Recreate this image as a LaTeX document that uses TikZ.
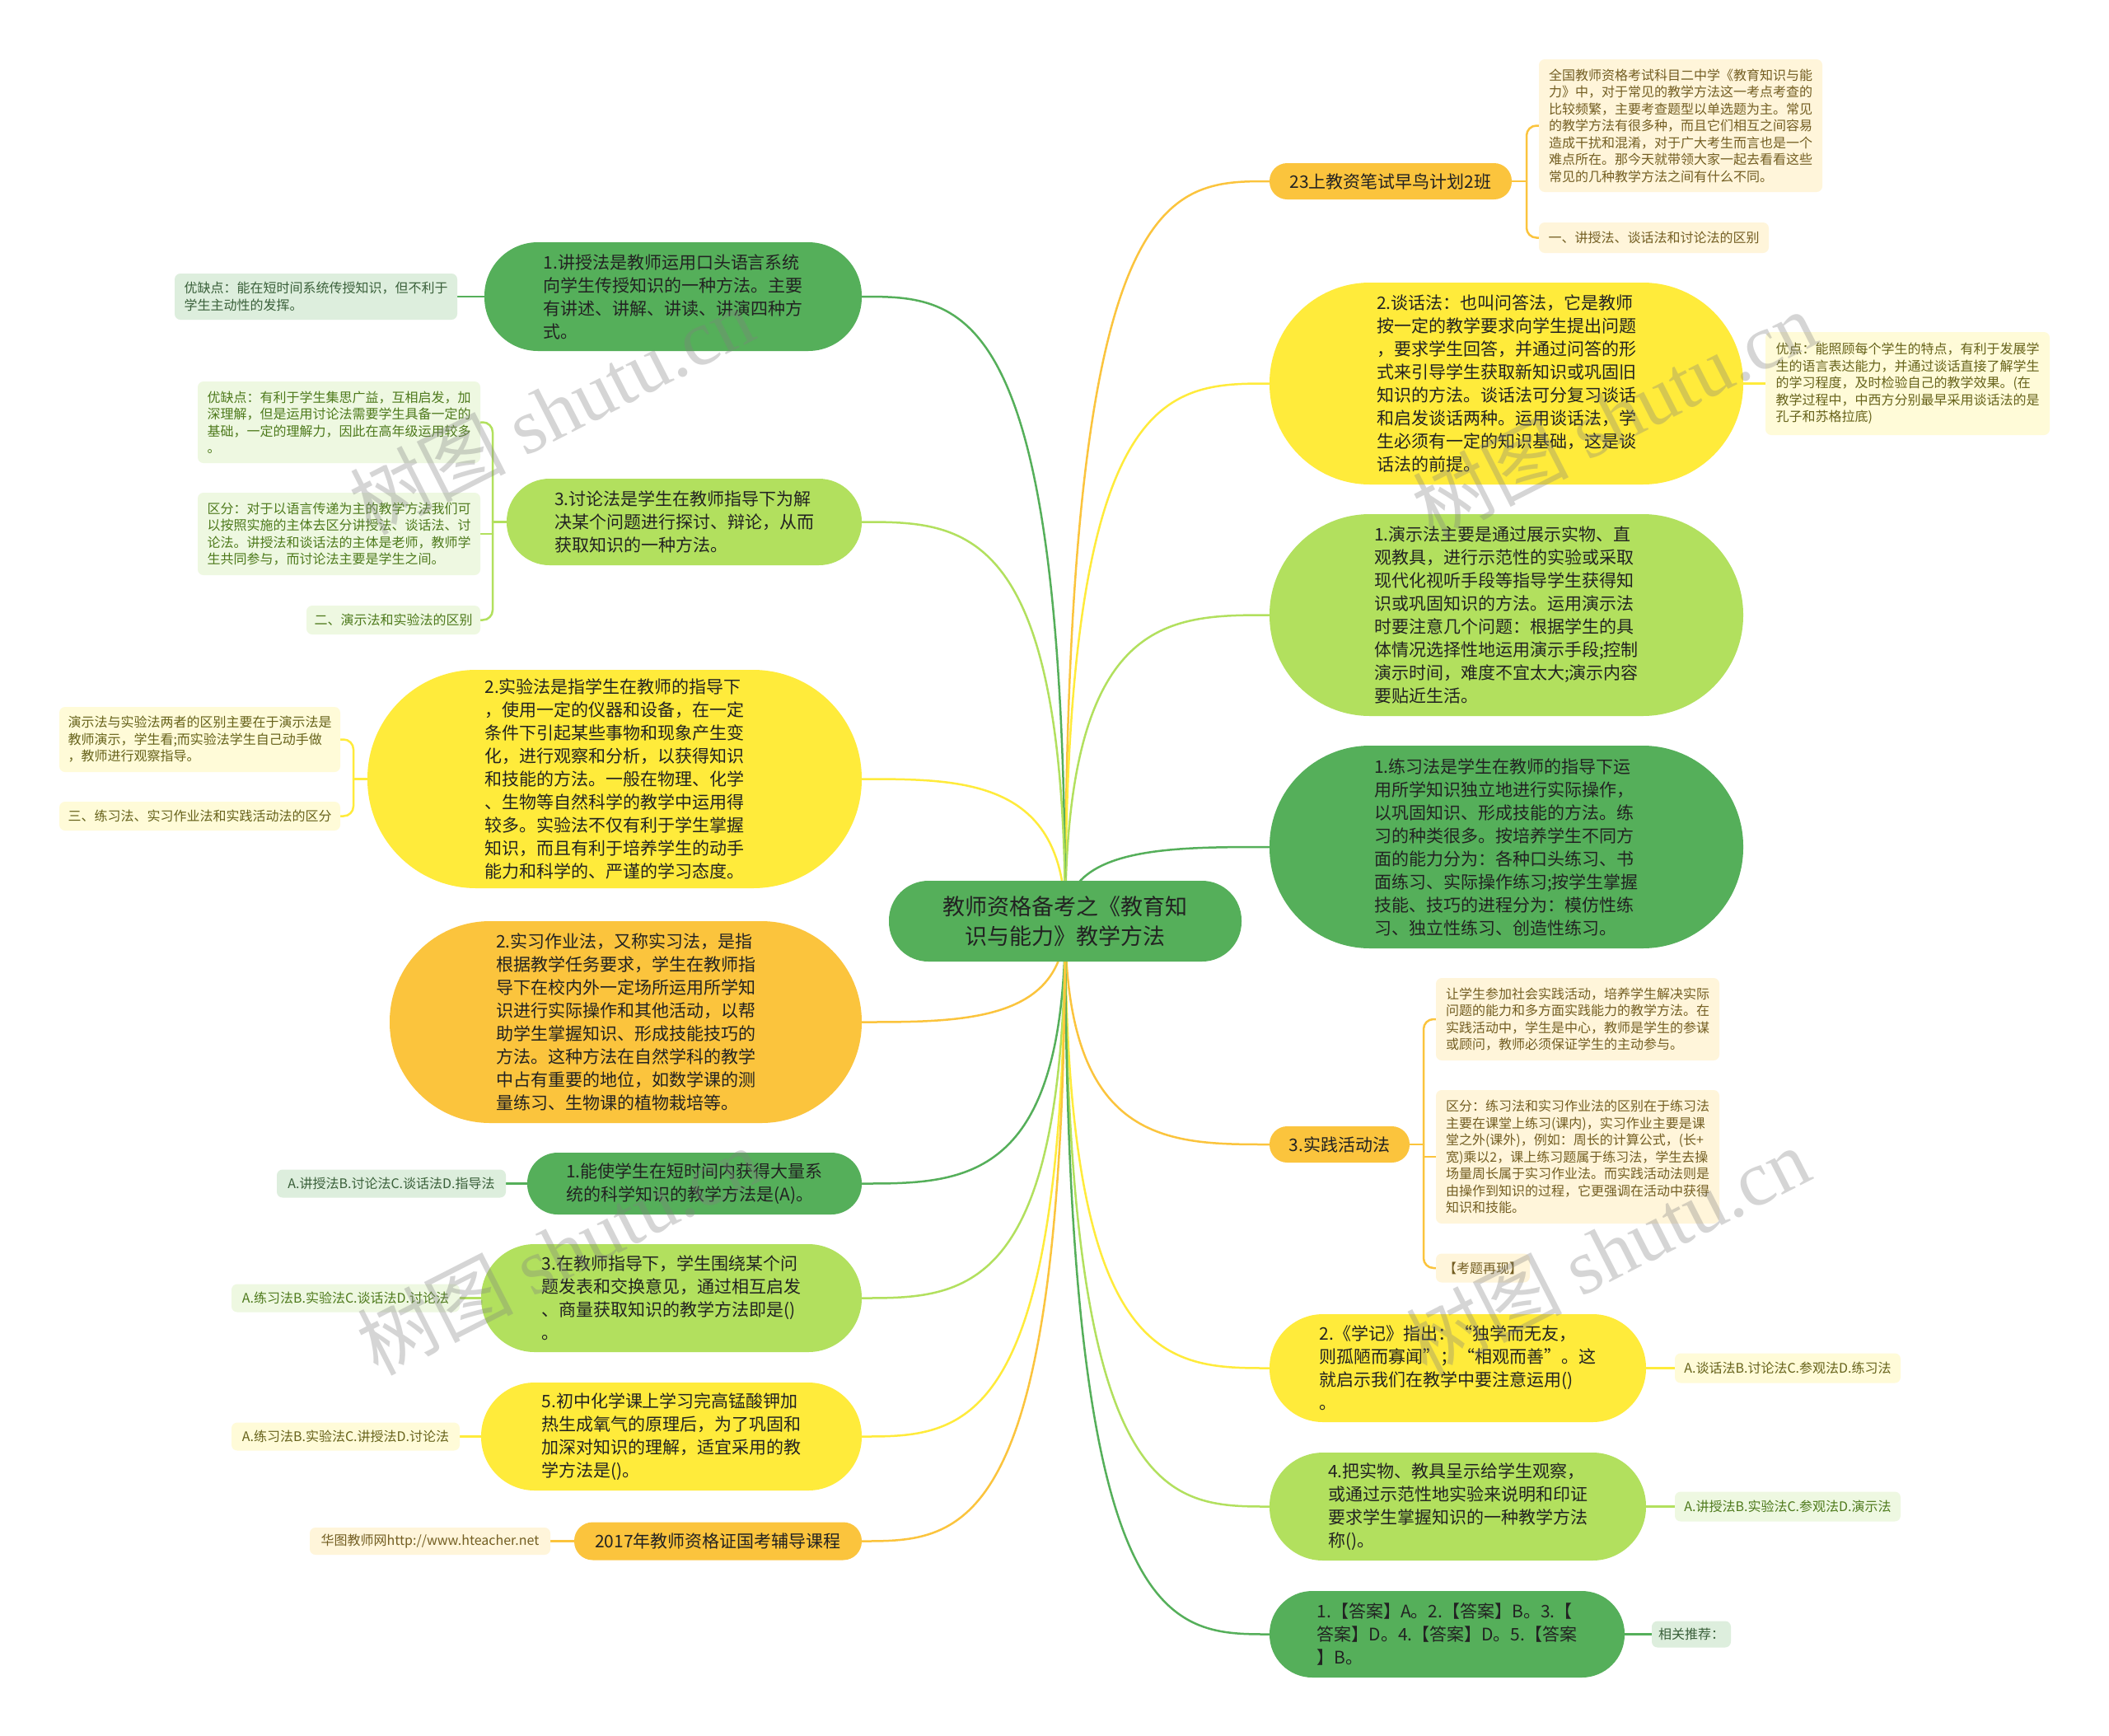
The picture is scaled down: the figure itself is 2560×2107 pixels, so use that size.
\documentclass[tikz,border=0pt]{standalone}
\usepackage{fontspec}
\setmainfont{Noto Sans CJK SC}
\newfontfamily\cjk{Noto Sans CJK SC}
\newfontfamily\wmser{Liberation Serif}
\usetikzlibrary{calc,backgrounds}
\definecolor{dg}{HTML}{55AF5A}
\definecolor{yl}{HTML}{FFEB3B}
\definecolor{lg}{HTML}{B2E05E}
\definecolor{og}{HTML}{FBC43D}
\definecolor{txt}{HTML}{222222}
\definecolor{dgbg}{HTML}{DDEEDD}
\definecolor{dgtx}{HTML}{3A603A}
\definecolor{ylbg}{HTML}{FFFBD8}
\definecolor{yltx}{HTML}{66621A}
\definecolor{lgbg}{HTML}{EEF8E1}
\definecolor{lgtx}{HTML}{4E7A1C}
\definecolor{ogbg}{HTML}{FFF5DA}
\definecolor{ogtx}{HTML}{735E22}
\begin{document}
\begin{tikzpicture}[x=1pt,y=-1pt,
  pill/.style={inner sep=0pt, align=left, text=txt, font=\cjk\fontsize{21}{28}\selectfont},
  note/.style={inner sep=0pt, rounded corners=7pt, align=left, font=\cjk\fontsize{16}{20.5}\selectfont},
  conn/.style={line width=2.5pt, line cap=round},
  wmark/.style={rotate=27, text=gray, opacity=0.33, font=\fontsize{95}{95}\selectfont}]
\useasboundingbox (0,0) rectangle (2560,2107);

% centre
\node[pill, align=center, fill=dg, minimum width=428pt, minimum height=98pt, rounded corners=48pt, font=\cjk\fontsize{27}{36}\selectfont] (ctr) at (1293,1118) {教师资格备考之《教育知\\识与能力》教学方法};

% right branches
\node[pill, fill=og, minimum width=294pt, minimum height=44pt, rounded corners=21.5pt] (R1) at (1688,220) {23上教资笔试早鸟计划2班};
\node[pill, fill=yl, minimum width=575pt, minimum height=245pt, rounded corners=122pt] (R2) at (1828.5,465.5) {2.谈话法：也叫问答法，它是教师\\按一定的教学要求向学生提出问题\\，要求学生回答，并通过问答的形\\式来引导学生获取新知识或巩固旧\\知识的方法。谈话法可分复习谈话\\和启发谈话两种。运用谈话法，学\\生必须有一定的知识基础，这是谈\\话法的前提。};
\node[pill, fill=lg, minimum width=575pt, minimum height=245pt, rounded corners=122pt] (R3) at (1828.5,746.5) {1.演示法主要是通过展示实物、直\\观教具，进行示范性的实验或采取\\现代化视听手段等指导学生获得知\\识或巩固知识的方法。运用演示法\\时要注意几个问题：根据学生的具\\体情况选择性地运用演示手段;控制\\演示时间，难度不宜太大;演示内容\\要贴近生活。};
\node[pill, fill=dg, minimum width=575pt, minimum height=246pt, rounded corners=122pt] (R4) at (1828.5,1028) {1.练习法是学生在教师的指导下运\\用所学知识独立地进行实际操作，\\以巩固知识、形成技能的方法。练\\习的种类很多。按培养学生不同方\\面的能力分为：各种口头练习、书\\面练习、实际操作练习;按学生掌握\\技能、技巧的进程分为：模仿性练\\习、独立性练习、创造性练习。};
\node[pill, fill=og, minimum width=170pt, minimum height=44pt, rounded corners=21.5pt] (R5) at (1626,1389) {3.实践活动法};
\node[pill, fill=yl, minimum width=457pt, minimum height=131pt, rounded corners=65pt] (R6) at (1769.5,1660.5) {2.《学记》指出：“独学而无友，\\则孤陋而寡闻”；“相观而善”。这\\就启示我们在教学中要注意运用()\\。};
\node[pill, fill=lg, minimum width=457pt, minimum height=131pt, rounded corners=65pt] (R7) at (1769.5,1828.5) {4.把实物、教具呈示给学生观察，\\或通过示范性地实验来说明和印证\\要求学生掌握知识的一种教学方法\\称()。};
\node[pill, fill=dg, minimum width=431pt, minimum height=105pt, rounded corners=52pt] (R8) at (1756.5,1983.5) {1.【答案】A。2.【答案】B。3.【\\答案】D。4.【答案】D。5.【答案\\】B。};

% left branches
\node[pill, fill=dg, minimum width=458pt, minimum height=132pt, rounded corners=65pt] (L1) at (817,360) {1.讲授法是教师运用口头语言系统\\向学生传授知识的一种方法。主要\\有讲述、讲解、讲读、讲演四种方\\式。};
\node[pill, fill=lg, minimum width=431pt, minimum height=105pt, rounded corners=52pt] (L2) at (830.5,633.5) {3.讨论法是学生在教师指导下为解\\决某个问题进行探讨、辩论，从而\\获取知识的一种方法。};
\node[pill, fill=yl, minimum width=600pt, minimum height=265pt, rounded corners=132pt] (L3) at (746,945.5) {2.实验法是指学生在教师的指导下\\，使用一定的仪器和设备，在一定\\条件下引起某些事物和现象产生变\\化，进行观察和分析，以获得知识\\和技能的方法。一般在物理、化学\\、生物等自然科学的教学中运用得\\较多。实验法不仅有利于学生掌握\\知识，而且有利于培养学生的动手\\能力和科学的、严谨的学习态度。};
\node[pill, fill=og, minimum width=573pt, minimum height=245pt, rounded corners=122pt] (L4) at (759.5,1240.5) {2.实习作业法，又称实习法，是指\\根据教学任务要求，学生在教师指\\导下在校内外一定场所运用所学知\\识进行实际操作和其他活动，以帮\\助学生掌握知识、形成技能技巧的\\方法。这种方法在自然学科的教学\\中占有重要的地位，如数学课的测\\量练习、生物课的植物栽培等。};
\node[pill, fill=dg, minimum width=406pt, minimum height=75pt, rounded corners=37pt] (L5) at (843,1436.5) {1.能使学生在短时间内获得大量系\\统的科学知识的教学方法是(A)。};
\node[pill, fill=lg, minimum width=462pt, minimum height=131pt, rounded corners=65pt] (L6) at (815,1575.5) {3.在教师指导下，学生围绕某个问\\题发表和交换意见，通过相互启发\\、商量获取知识的教学方法即是()\\。};
\node[pill, fill=yl, minimum width=462pt, minimum height=131pt, rounded corners=65pt] (L7) at (815,1743.5) {5.初中化学课上学习完高锰酸钾加\\热生成氧气的原理后，为了巩固和\\加深对知识的理解，适宜采用的教\\学方法是()。};
\node[pill, fill=og, minimum width=349pt, minimum height=46pt, rounded corners=22.5pt] (L8) at (871.5,1870.5) {2017年教师资格证国考辅导课程};

% notes right
\node[note, fill=ogbg, text=ogtx, minimum width=344pt, minimum height=161pt] (r1a) at (2040,152.5) {全国教师资格考试科目二中学《教育知识与能\\力》中，对于常见的教学方法这一考点考查的\\比较频繁，主要考查题型以单选题为主。常见\\的教学方法有很多种，而且它们相互之间容易\\造成干扰和混淆，对于广大考生而言也是一个\\难点所在。那今天就带领大家一起去看看这些\\常见的几种教学方法之间有什么不同。};
\node[note, fill=ogbg, text=ogtx, minimum width=279pt, minimum height=37pt] (r1b) at (2007.5,288.5) {一、讲授法、谈话法和讨论法的区别};
\node[note, fill=ylbg, text=yltx, minimum width=345pt, minimum height=125pt] (r2a) at (2315.5,465.5) {优点：能照顾每个学生的特点，有利于发展学\\生的语言表达能力，并通过谈话直接了解学生\\的学习程度，及时检验自己的教学效果。(在\\教学过程中，中西方分别最早采用谈话法的是\\孔子和苏格拉底)};
\node[note, fill=ogbg, text=ogtx, minimum width=344pt, minimum height=100pt] (r5a) at (1915,1237) {让学生参加社会实践活动，培养学生解决实际\\问题的能力和多方面实践能力的教学方法。在\\实践活动中，学生是中心，教师是学生的参谋\\或顾问，教师必须保证学生的主动参与。};
\node[note, fill=ogbg, text=ogtx, minimum width=344pt, minimum height=162pt] (r5b) at (1915,1404) {区分：练习法和实习作业法的区别在于练习法\\主要在课堂上练习(课内)，实习作业主要是课\\堂之外(课外)，例如：周长的计算公式，(长+\\宽)乘以2，课上练习题属于练习法，学生去操\\场量周长属于实习作业法。而实践活动法则是\\由操作到知识的过程，它更强调在活动中获得\\知识和技能。};
\node[note, fill=ogbg, text=ogtx, minimum width=114pt, minimum height=35pt] (r5c) at (1800,1539) {【考题再现】};
\node[note, fill=ylbg, text=yltx, minimum width=274pt, minimum height=36pt] (r6a) at (2170,1660.5) {A.谈话法B.讨论法C.参观法D.练习法};
\node[note, fill=lgbg, text=lgtx, minimum width=274pt, minimum height=36pt] (r7a) at (2170,1828.5) {A.讲授法B.实验法C.参观法D.演示法};
\node[note, fill=dgbg, text=dgtx, minimum width=96pt, minimum height=32pt] (r8a) at (2053,1983.5) {相关推荐：};

% notes left
\node[note, fill=dgbg, text=dgtx, minimum width=343pt, minimum height=56pt] (l1a) at (383.5,360) {优缺点：能在短时间系统传授知识，但不利于\\学生主动性的发挥。};
\node[note, fill=lgbg, text=lgtx, minimum width=343pt, minimum height=99pt] (l2a) at (411.5,512.5) {优缺点：有利于学生集思广益，互相启发，加\\深理解，但是运用讨论法需要学生具备一定的\\基础，一定的理解力，因此在高年级运用较多\\。};
\node[note, fill=lgbg, text=lgtx, minimum width=343pt, minimum height=100pt] (l2b) at (411.5,648) {区分：对于以语言传递为主的教学方法我们可\\以按照实施的主体去区分讲授法、谈话法、讨\\论法。讲授法和谈话法的主体是老师，教师学\\生共同参与，而讨论法主要是学生之间。};
\node[note, fill=lgbg, text=lgtx, minimum width=211pt, minimum height=35pt] (l2c) at (477.5,752.5) {二、演示法和实验法的区别};
\node[note, fill=ylbg, text=yltx, minimum width=341pt, minimum height=79pt] (l3a) at (242.5,897.5) {演示法与实验法两者的区别主要在于演示法是\\教师演示，学生看;而实验法学生自己动手做\\，教师进行观察指导。};
\node[note, fill=ylbg, text=yltx, minimum width=341pt, minimum height=35pt] (l3b) at (242.5,990.5) {三、练习法、实习作业法和实践活动法的区分};
\node[note, fill=dgbg, text=dgtx, minimum width=278pt, minimum height=34pt] (l5a) at (475,1436.5) {A.讲授法B.讨论法C.谈话法D.指导法};
\node[note, fill=lgbg, text=lgtx, minimum width=277pt, minimum height=34pt] (l6a) at (419.5,1575.5) {A.练习法B.实验法C.谈话法D.讨论法};
\node[note, fill=ylbg, text=yltx, minimum width=277pt, minimum height=34pt] (l7a) at (419.5,1743.5) {A.练习法B.实验法C.讲授法D.讨论法};
\node[note, fill=ogbg, text=ogtx, minimum width=292pt, minimum height=33pt] (l8a) at (522,1870.5) {华图教师网http://www.hteacher.net};

\coordinate (b1) at (1853,220);
\coordinate (b5) at (1728,1389);
\coordinate (bl2) at (598,633.5);
\coordinate (bl3) at (429,945.5);

\begin{pgfonlayer}{background}
\fill[white] (0,0) rectangle (2560,2107);
\foreach \n/\c in {R1/og,R2/yl,R3/lg,R4/dg,R5/og,R6/yl,R7/lg,R8/dg}
  \draw[conn, draw=\c] (ctr.center) .. controls (ctr.center |- \n.west) and ($(ctr.center |- \n.west)!0.5!(\n.west)$) .. (\n.west);
\foreach \n/\c in {L1/dg,L2/lg,L3/yl,L4/og,L5/dg,L6/lg,L7/yl,L8/og}
  \draw[conn, draw=\c] (ctr.center) .. controls (ctr.center |- \n.east) and ($(ctr.center |- \n.east)!0.5!(\n.east)$) .. (\n.east);
% single notes
\draw[conn, draw=yl] (R2.east) -- (r2a.west);
\draw[conn, draw=yl] (R6.east) -- (r6a.west);
\draw[conn, draw=lg] (R7.east) -- (r7a.west);
\draw[conn, draw=dg] (R8.east) -- (r8a.west);
\draw[conn, draw=dg] (L1.west) -- (l1a.east);
\draw[conn, draw=dg] (L5.west) -- (l5a.east);
\draw[conn, draw=lg] (L6.west) -- (l6a.east);
\draw[conn, draw=yl] (L7.west) -- (l7a.east);
\draw[conn, draw=og] (L8.west) -- (l8a.east);
% brackets
\draw[conn, draw=og] (R1.east) -- (b1);
\draw[conn, draw=og, rounded corners=12pt] (r1a.west) -- (r1a.west -| b1) -- (r1b.west -| b1) -- (r1b.west);
\draw[conn, draw=og] (R5.east) -- (b5);
\draw[conn, draw=og, rounded corners=12pt] (r5a.west) -- (r5a.west -| b5) -- (r5c.west -| b5) -- (r5c.west);
\draw[conn, draw=og] (r5b.west -| b5) -- (r5b.west);
\draw[conn, draw=lg] (L2.west) -- (bl2);
\draw[conn, draw=lg, rounded corners=12pt] (l2a.east) -- (l2a.east -| bl2) -- (l2c.east -| bl2) -- (l2c.east);
\draw[conn, draw=lg] (l2b.east -| bl2) -- (l2b.east);
\draw[conn, draw=yl] (L3.west) -- (bl3);
\draw[conn, draw=yl, rounded corners=12pt] (l3a.east) -- (l3a.east -| bl3) -- (l3b.east -| bl3) -- (l3b.east);
\end{pgfonlayer}

% watermarks
\node[wmark] (w1) at (669,498) {{\cjk 树图} {\wmser shutu.cn}};
\node[wmark] (w2) at (1959,503) {{\cjk 树图} {\wmser shutu.cn}};
\node[wmark] (w3) at (678,1518) {{\cjk 树图} {\wmser shutu.cn}};
\node[wmark] (w4) at (1951,1518) {{\cjk 树图} {\wmser shutu.cn}};
\end{tikzpicture}
\end{document}
